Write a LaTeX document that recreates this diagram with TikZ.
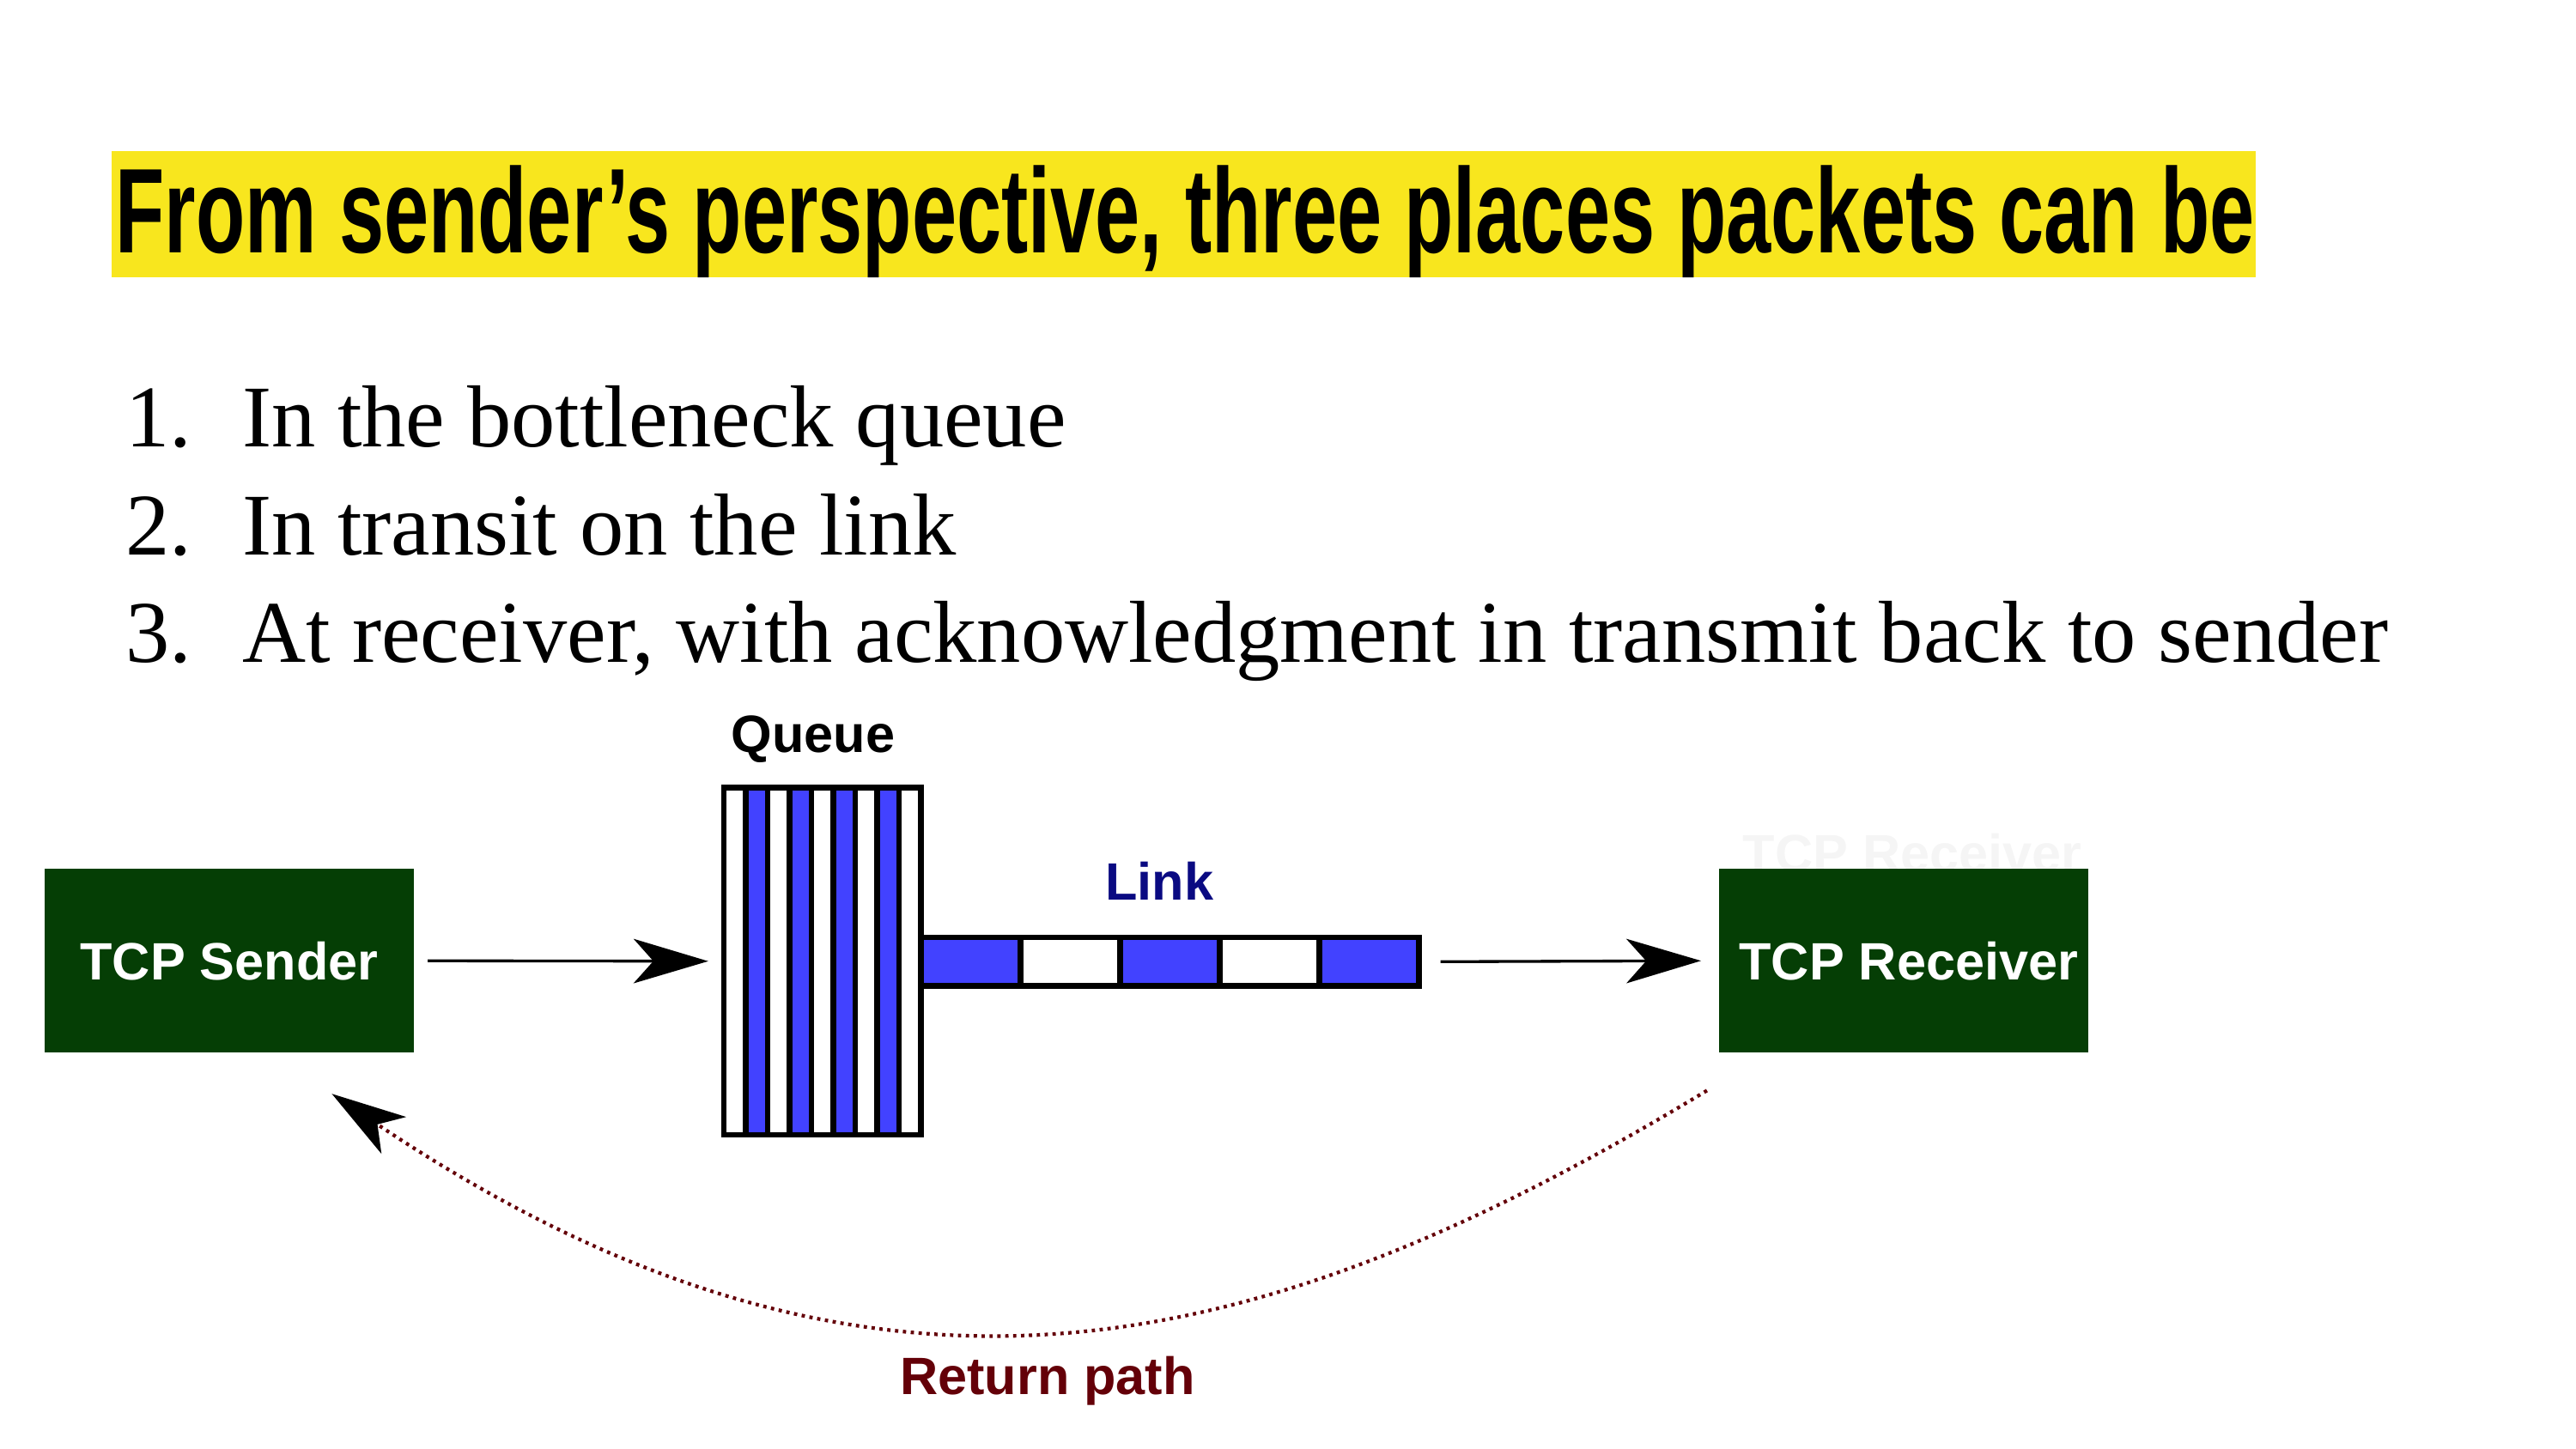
\documentclass[tikz,border=0pt]{standalone}
\usepackage{fontspec}
\usepackage{graphicx}
\setmainfont{Liberation Serif}
\setsansfont{Liberation Sans}
\usetikzlibrary{arrows.meta}
\definecolor{titleyellow}{RGB}{248,230,30}
\definecolor{boxgreen}{RGB}{5,62,5}
\definecolor{pktblue}{RGB}{66,66,255}
\definecolor{linknavy}{RGB}{10,10,130}
\definecolor{retred}{RGB}{100,0,8}
\tikzset{
  listtext/.style={anchor=base west, inner sep=0pt, font=\fontsize{26.8pt}{32pt}\selectfont},
  difont/.style={font=\sffamily\bfseries\fontsize{16pt}{19pt}\selectfont},
  tcpbox/.style={difont, fill=boxgreen, text=white, minimum width=112.5pt, minimum height=56pt, inner sep=0pt},
  qcell/.style={draw=black, line width=1.7pt},
  arr/.style={line width=0.87pt, -{Stealth[length=22.7pt, width=13.5pt, inset=6pt]}},
  retpath/.style={retred, line width=1.1pt, dash pattern=on 1.0pt off 1.4pt,
     -{Stealth[length=22.7pt, width=13.5pt, inset=6pt, color=black, line width=0.5pt]}}
}
\begin{document}
\begin{tikzpicture}[x=0.5pt, y=-0.5pt]
\useasboundingbox (0,0) rectangle (1568,882);
% title
\fill[titleyellow] (68,92) rectangle (1373,169);
\node[anchor=base west, inner sep=0pt] (title) at (70,154)
  {\resizebox{651pt}{\height}{\sffamily\bfseries\fontsize{36.7pt}{40pt}\selectfont From sender’s perspective, three places packets can be}};
% list
\node[listtext] (n1) at (76,272) {1.};
\node[listtext] (t1) at (147,272) {In the bottleneck queue};
\node[listtext] (n2) at (76,338) {2.};
\node[listtext] (t2) at (147,338) {In transit on the link};
\node[listtext] (n3) at (76,403) {3.};
\node[listtext] (t3) at (147,403) {At receiver, with acknowledgment in transmit back to sender};
% queue
\node[difont, anchor=base, inner sep=0pt] (qlabel) at (495,458) {Queue};
\foreach \i in {0,...,8} {
  \pgfmathsetmacro{\xa}{440.6+\i*13.33}
  \pgfmathsetmacro{\xb}{440.6+(\i+1)*13.33}
  \pgfmathtruncatemacro{\odd}{mod(\i,2)}
  \ifnum\odd=1
    \filldraw[qcell, fill=pktblue] (\xa,479.5) rectangle (\xb,691);
  \else
    \filldraw[qcell, fill=white] (\xa,479.5) rectangle (\xb,691);
  \fi
}
\node[draw=black, line width=1.7pt, minimum width=60pt, minimum height=105.75pt, inner sep=0pt] (queue) at (500.6,585.25) {};
% link
\foreach \i in {0,...,4} {
  \pgfmathsetmacro{\xa}{560.6+\i*60.6}
  \pgfmathsetmacro{\xb}{560.6+(\i+1)*60.6}
  \pgfmathtruncatemacro{\odd}{mod(\i,2)}
  \ifnum\odd=0
    \filldraw[qcell, fill=pktblue] (\xa,570.7) rectangle (\xb,600.4);
  \else
    \filldraw[qcell, fill=white] (\xa,570.7) rectangle (\xb,600.4);
  \fi
}
\node[draw=black, line width=1.7pt, minimum width=151.5pt, minimum height=14.85pt, inner sep=0pt] (link) at (712.1,585.55) {};
\node[difont, text=linknavy, anchor=base, inner sep=0pt] (llabel) at (705.8,548) {Link};
% boxes
\node[difont, text=black!4, anchor=base, inner sep=0pt] (ghost) at (1164,531) {TCP Receiver};
\node[tcpbox] (sender) at (139.5,585) {TCP Sender};
\node[tcpbox] (receiver) at (1158.8,585) {\hspace*{3pt}TCP Receiver};
% arrows
\draw[arr] ([xshift=4pt]sender.east) -- ([xshift=-3.9pt]queue.west);
\draw[arr] ([xshift=5.75pt]link.east) -- ([xshift=-5.25pt]receiver.west);
% return path
\coordinate (rstart) at (1039,664);
\coordinate (rend) at (202,666);
\draw[retpath] (rstart) .. controls (765,830) and (530,886) .. (rend);
\node[difont, text=retred, anchor=base, inner sep=0pt] (rlabel) at (637.6,849) {Return path};
\end{tikzpicture}
\end{document}
